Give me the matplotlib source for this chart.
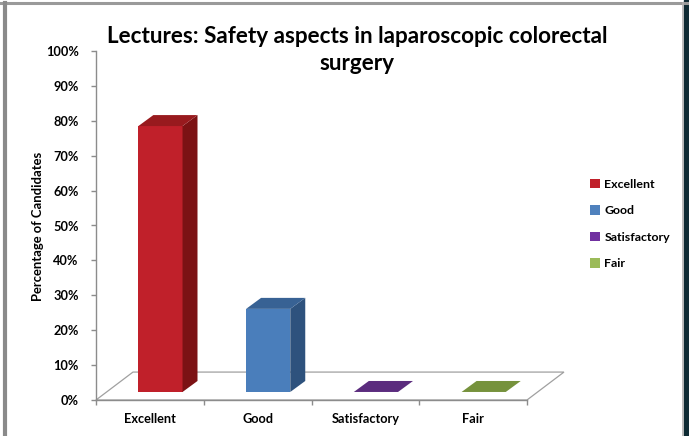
import matplotlib
matplotlib.use("Agg")
import matplotlib.pyplot as plt
from matplotlib.patches import Polygon, Rectangle, Patch
from matplotlib.lines import Line2D
import numpy as np

categories = ["Excellent", "Good", "Satisfactory", "Fair"]
values = [76.19, 23.81, 0.0, 0.0]
y_ticks = [0, 10, 20, 30, 40, 50, 60, 70, 80, 90, 100]
y_tick_labels = [f"{v}%" for v in y_ticks]
title = "Lectures: Safety aspects in laparoscopic colorectal\nsurgery"
y_label = "Percentage of Candidates"

front_colors = ["#C0202A", "#4A7EBB", "#7030A0", "#9BBB59"]
side_colors = ["#7C1214", "#2E527D", "#4A2070", "#5E7A30"]
top_colors = ["#981A1E", "#386294", "#5B2C7E", "#76923C"]
legend_colors = ["#C0202A", "#4F81BD", "#7030A0", "#9BBB59"]

plt.rcParams['font.family'] = ['Lato', 'DejaVu Sans']
plt.rcParams['font.weight'] = 'bold'

W, H = 689, 436
fig = plt.figure(figsize=(W / 100, H / 100), dpi=100)
fig.patch.set_facecolor("white")

ax_left, ax_right, ax_bottom, ax_top = 96, 527, 400, 51
ax = fig.add_axes([ax_left / W, (H - ax_bottom) / H, (ax_right - ax_left) / W, (ax_bottom - ax_top) / H])
ax.set_xlim(-0.5, len(categories) - 0.5)
ax.set_ylim(0, 100)
ax.set_facecolor("none")

# oblique depth parameters (data units)
FLOOR_DX, FLOOR_DY = 0.343, 8.0
BAR_OFF_DX, BAR_OFF_DY = 0.098, 2.3
BAR_DX, BAR_DY = 0.139, 3.15
BAR_W = 0.41

x = np.arange(len(categories))
# floor
floor = Polygon([(-0.5, 0), (len(categories) - 0.5, 0),
                 (len(categories) - 0.5 + FLOOR_DX, FLOOR_DY), (-0.5 + FLOOR_DX, FLOOR_DY)],
                closed=True, facecolor="white", edgecolor="#A0A0A0", lw=0.9, clip_on=False, zorder=1)
ax.add_patch(floor)

for i, v in enumerate(values):
    xl = x[i] - BAR_W / 2 + BAR_OFF_DX
    xr = xl + BAR_W
    b = BAR_OFF_DY
    t = b + v
    if v > 0:
        ax.bar(xl + BAR_W / 2, v, bottom=b, width=BAR_W, color=front_colors[i], zorder=3, clip_on=False)
        side = Polygon([(xr, b), (xr + BAR_DX, b + BAR_DY), (xr + BAR_DX, t + BAR_DY), (xr, t)],
                       closed=True, facecolor=side_colors[i], edgecolor="none", clip_on=False, zorder=3)
        ax.add_patch(side)
    top = Polygon([(xl, t), (xr, t), (xr + BAR_DX, t + BAR_DY), (xl + BAR_DX, t + BAR_DY)],
                  closed=True, facecolor=top_colors[i], edgecolor="none", clip_on=False, zorder=3)
    ax.add_patch(top)

for s in ["top", "right"]:
    ax.spines[s].set_visible(False)
for s in ["left", "bottom"]:
    ax.spines[s].set_color("#8C8C8C")
    ax.spines[s].set_linewidth(1.0)

ax.set_yticks(y_ticks)
ax.set_yticklabels(y_tick_labels)
ax.set_xticks(x)
ax.set_xticklabels(categories)
ax.set_xticks(np.arange(len(categories) + 1) - 0.5, minor=True)
ax.tick_params(axis="x", which="major", length=0, pad=9, labelsize=9.2)
ax.tick_params(axis="x", which="minor", length=3.5, color="#8C8C8C", width=1)
ax.tick_params(axis="y", length=3.5, color="#8C8C8C", width=1, pad=9, labelsize=9.2)
for lbl in ax.get_xticklabels() + ax.get_yticklabels():
    lbl.set_fontweight("bold")

fig.text(38 / W, (H - 226) / H, y_label, rotation=90, ha="center", va="center",
         fontsize=9.4, fontweight="bold")

fig.text(357 / W, (H - 50) / H, title, ha="center", va="center", fontsize=16.2,
         fontweight="bold", linespacing=1.3)

handles = [Patch(facecolor=c, edgecolor="none") for c in legend_colors]
fig.legend(handles, categories, loc="center left", bbox_to_anchor=(579 / W, (H - 224) / H),
           frameon=False, handlelength=0.8, handleheight=0.8,
           handletextpad=0.35, labelspacing=1.25, prop={"weight": "bold", "size": 8.9})

# window frame
fig.add_artist(Line2D([0, 1], [(H - 3) / H] * 2, color="#9A9A9A", lw=2.2, transform=fig.transFigure))
fig.add_artist(Line2D([5 / W] * 2, [0, (H - 3) / H], color="#8A8A8A", lw=3, transform=fig.transFigure))
fig.add_artist(Line2D([682.5 / W] * 2, [0, (H - 3) / H], color="#B0B0B0", lw=1.2, transform=fig.transFigure))
fig.add_artist(Rectangle((684 / W, 0), 5 / W, 1, color="#0E2A33", transform=fig.transFigure))

fig.savefig("out.png", dpi=100)
